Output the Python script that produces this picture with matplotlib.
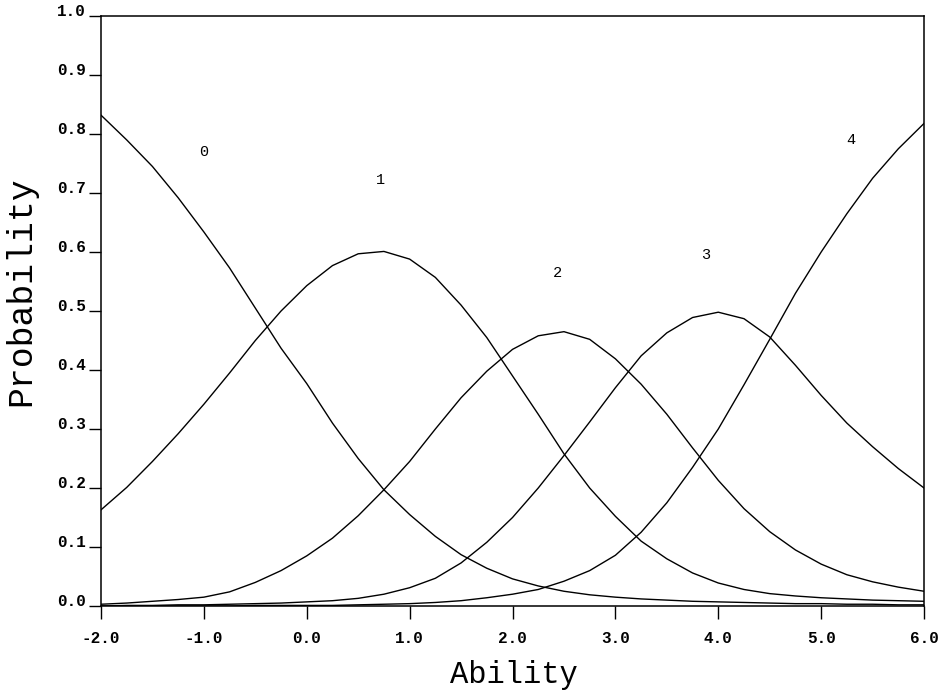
import matplotlib.pyplot as plt

# ability grid (step 0.25)
ability = [-2.0, -1.75, -1.5, -1.25, -1.0, -0.75, -0.5, -0.25, 0.0, 0.25, 0.5,
           0.75, 1.0, 1.25, 1.5, 1.75, 2.0, 2.25, 2.5, 2.75, 3.0, 3.25, 3.5,
           3.75, 4.0, 4.25, 4.5, 4.75, 5.0, 5.25, 5.5, 5.75, 6.0]

# category response curves
cat0 = [0.832, 0.79, 0.745, 0.692, 0.634, 0.573, 0.505, 0.437, 0.377, 0.31, 0.25,
        0.197, 0.155, 0.118, 0.087, 0.064, 0.046, 0.034, 0.025, 0.019, 0.015, 0.012,
        0.01, 0.008, 0.007, 0.006, 0.005, 0.004, 0.004, 0.003, 0.003, 0.002, 0.002]
cat1 = [0.163, 0.201, 0.245, 0.292, 0.342, 0.395, 0.45, 0.50, 0.543, 0.577, 0.597,
        0.601, 0.588, 0.557, 0.51, 0.455, 0.39, 0.325, 0.258, 0.20, 0.152, 0.11,
        0.08, 0.056, 0.039, 0.028, 0.021, 0.017, 0.014, 0.012, 0.01, 0.009, 0.008]
cat2 = [0.003, 0.005, 0.008, 0.011, 0.015, 0.024, 0.04, 0.06, 0.085, 0.115, 0.153,
        0.197, 0.245, 0.30, 0.353, 0.398, 0.435, 0.458, 0.465, 0.452, 0.419, 0.376,
        0.325, 0.268, 0.213, 0.165, 0.126, 0.095, 0.071, 0.053, 0.041, 0.032, 0.025]
cat3 = [0.0, 0.001, 0.001, 0.002, 0.002, 0.003, 0.004, 0.005, 0.007, 0.009, 0.013,
        0.02, 0.031, 0.047, 0.073, 0.108, 0.15, 0.20, 0.255, 0.312, 0.37, 0.424,
        0.463, 0.489, 0.498, 0.487, 0.456, 0.408, 0.357, 0.31, 0.27, 0.233, 0.20]
cat4 = [0.0, 0.0, 0.0, 0.0, 0.0, 0.0, 0.001, 0.001, 0.001, 0.001, 0.002,
        0.003, 0.004, 0.006, 0.009, 0.014, 0.02, 0.028, 0.042, 0.06, 0.086, 0.125,
        0.175, 0.235, 0.30, 0.375, 0.452, 0.53, 0.60, 0.665, 0.725, 0.775, 0.818]

curves = [cat0, cat1, cat2, cat3, cat4]
curve_labels = ["0", "1", "2", "3", "4"]
label_x = [-1.0, 0.72, 2.44, 3.88, 5.29]
label_y = [0.77, 0.722, 0.564, 0.595, 0.79]

x_ticks = [-2.0, -1.0, 0.0, 1.0, 2.0, 3.0, 4.0, 5.0, 6.0]
y_ticks = [0.0, 0.1, 0.2, 0.3, 0.4, 0.5, 0.6, 0.7, 0.8, 0.9, 1.0]

mono = "Liberation Mono"

fig = plt.figure(figsize=(9.43, 6.91), dpi=100)
ax = fig.add_axes([0.1071, 0.1230, 0.8728, 0.8538])

for vals in curves:
    ax.plot(ability, vals, color="black", linewidth=1.0, solid_joinstyle="round")

for lab, lx, ly in zip(curve_labels, label_x, label_y):
    ax.text(lx, ly, lab, fontsize=11, family=mono, ha="center", va="center")

ax.set_xlim(-2, 6)
ax.set_ylim(0, 1)
ax.set_xticks(x_ticks)
ax.set_xticklabels([f"{v:.1f}" for v in x_ticks], family=mono, fontsize=11.5,
                   fontweight="bold")
ax.set_yticks(y_ticks)
ax.set_yticklabels([f"{v:.1f}" for v in y_ticks], family=mono, fontsize=11.5,
                   fontweight="bold")
for t in ax.get_yticklabels():
    t.set_verticalalignment("baseline")

ax.tick_params(axis="x", direction="out", length=9, width=1.0, pad=9)
ax.tick_params(axis="y", direction="out", length=9, width=1.0, pad=2)
for sp in ax.spines.values():
    sp.set_linewidth(1.1)

fig.text(0.545, 0.012, "Ability", family=mono, fontsize=22, ha="center",
         va="baseline")
fig.text(0.022, 0.578, "Probability", family=mono, fontsize=25, rotation=90,
         ha="center", va="center")

fig.savefig("out.png", dpi=100)
